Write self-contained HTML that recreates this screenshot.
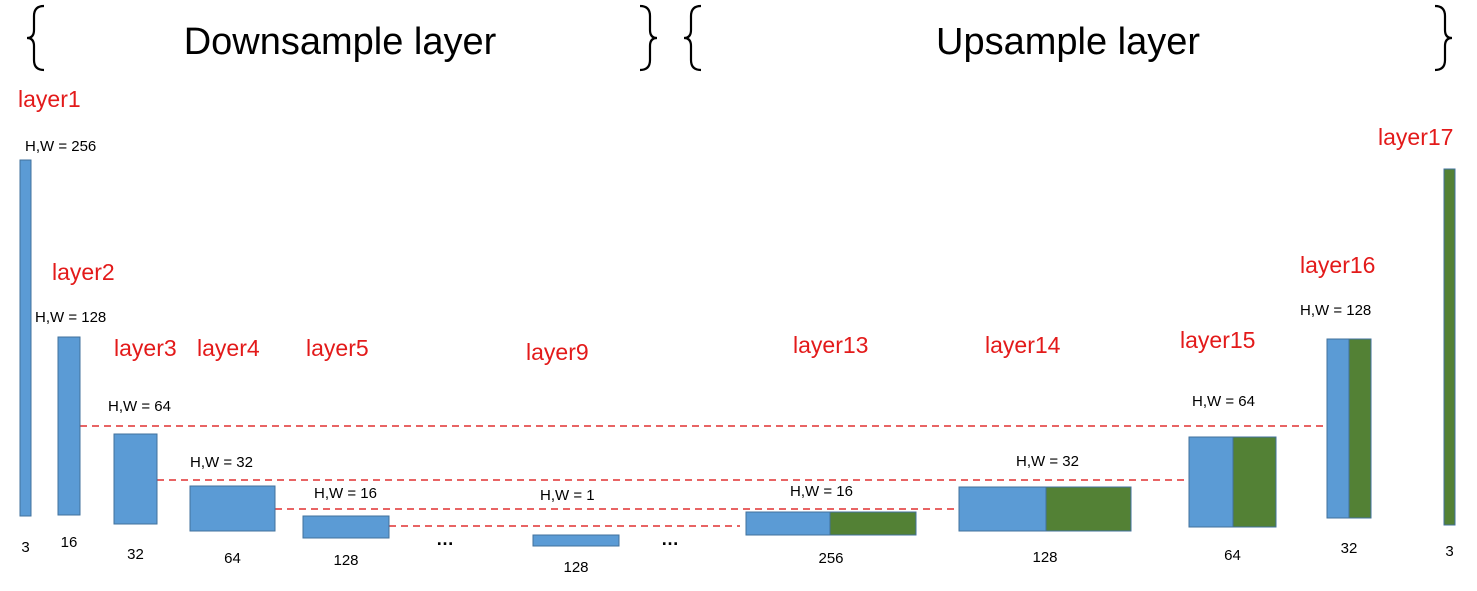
<!DOCTYPE html>
<html><head><meta charset="utf-8"><style>
body{margin:0;background:#fff;}
svg{display:block;font-family:"Liberation Sans",sans-serif;}
.lbl{fill:#e31a1a;font-size:23px;}
.hw{fill:#000;font-size:15px;}
.ch{fill:#000;font-size:15px;}
.brace{fill:none;stroke:#000;stroke-width:2.2;}
</style></head><body>
<svg id="c" width="1477" height="591" viewBox="0 0 1477 591">
<g id="hdr">
<path class="brace" d="M44 6 Q34 6 34 16 L34 30 Q34 38 27 38 Q34 38 34 46 L34 60 Q34 70 44 70"/>
<text x="340" y="54" font-size="38" text-anchor="middle">Downsample layer</text>
<path class="brace" d="M640 6 Q650 6 650 16 L650 30 Q650 38 657 38 Q650 38 650 46 L650 60 Q650 70 640 70"/>
<path class="brace" d="M701 6 Q691 6 691 16 L691 30 Q691 38 684 38 Q691 38 691 46 L691 60 Q691 70 701 70"/>
<text x="1068" y="54" font-size="38" text-anchor="middle">Upsample layer</text>
<path class="brace" d="M1435 6 Q1445 6 1445 16 L1445 30 Q1445 38 1452 38 Q1445 38 1445 46 L1445 60 Q1445 70 1435 70"/>
</g>
</svg>
<script>
const names=["layer1","layer2","layer3","layer4","layer5","layer9","layer13","layer14","layer15","layer16","layer17"];
const channels=["3","16","32","64","128","128","256","128","64","32","3"];
const sizes=["H,W = 256","H,W = 128","H,W = 64","H,W = 32","H,W = 16","H,W = 1","H,W = 16","H,W = 32","H,W = 64","H,W = 128",""];
const boxX=[20,58,114,190,303,533,746,959,1189,1327,1444];
const blueW=[11,22,43,85,86,86,84,87,44,22,0];
const greenW=[0,0,0,0,0,0,86,85,43,22,11];
const boxTop=[160,337,434,486,516,535,512,487,437,339,169];
const boxBot=[516,515,524,531,538,546,535,531,527,518,525];
const lblPos=[[18,107],[52,280],[114,356],[197,356],[306,356],[526,360],[793,353],[985,353],[1180,348],[1300,273],[1378,145]];
const hwPos=[[25,151],[35,322],[108,411],[190,467],[314,498],[540,500],[790,496],[1016,466],[1192,406],[1300,315],null];
const chY=[552,547,559,563,565,572,563,562,560,553,556];
const dashes=[[80,1327,426],[157,1189,480],[275,959,509],[389,740,526]];
const svg=document.getElementById('c');
const NS='http://www.w3.org/2000/svg';
function mk(t,a){const e=document.createElementNS(NS,t);for(const k in a)e.setAttribute(k,a[k]);svg.appendChild(e);return e;}
dashes.forEach(d=>{const l=mk('line',{x1:d[0],x2:d[1],y1:d[2],y2:d[2],stroke:'#e03030','stroke-width':1.6,'stroke-dasharray':'7 5'});

});
names.forEach((n,i)=>{
 const h=boxBot[i]-boxTop[i];
 if(blueW[i]>0){const r=mk('rect',{x:boxX[i],y:boxTop[i],width:blueW[i],height:h,fill:'#5b9bd5',stroke:'#41719c','stroke-width':1});
 
 }
 if(greenW[i]>0){const g=mk('rect',{x:boxX[i]+blueW[i],y:boxTop[i],width:greenW[i],height:h,fill:'#538135',stroke:'#41719c','stroke-width':1});
 
 }
 const cx=boxX[i]+(blueW[i]+greenW[i])/2;
 const t=mk('text',{x:lblPos[i][0],y:lblPos[i][1],class:'lbl'});t.textContent=n;
 
 
 if(hwPos[i]){const s=mk('text',{x:hwPos[i][0],y:hwPos[i][1],class:'hw'});s.textContent=sizes[i];
 
 }
 const c=mk('text',{x:cx,y:chY[i],class:'ch','text-anchor':'middle'});c.textContent=channels[i];
 
 
});
[[445,545],[670,545]].forEach(p=>{const e=mk('text',{x:p[0],y:p[1],'font-size':18,'font-weight':'bold','text-anchor':'middle'});e.textContent='…';

});
</script>
</body></html>
